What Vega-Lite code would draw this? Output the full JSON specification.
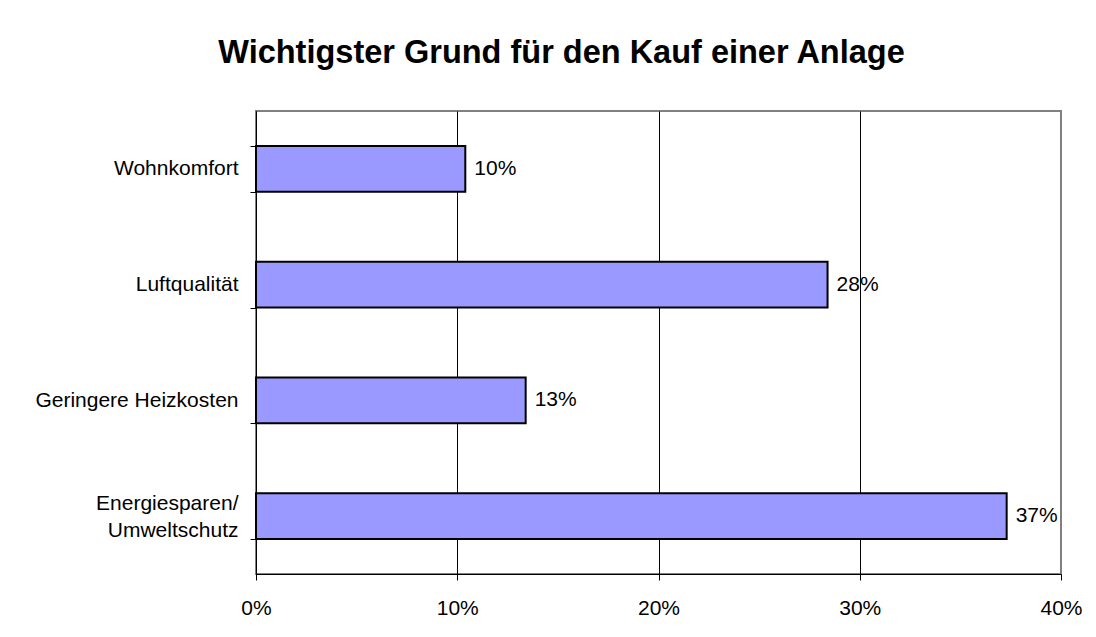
{
  "$schema": "https://vega.github.io/schema/vega-lite/v6.json",
  "width": 805,
  "height": 463,
  "autosize": {"type": "none"},
  "padding": {"left": 256, "top": 111, "right": 35, "bottom": 63},
  "background": "white",
  "title": {
    "text": "Wichtigster Grund für den Kauf einer Anlage",
    "font": "Liberation Sans",
    "fontSize": 32.5,
    "fontWeight": "bold",
    "color": "black",
    "anchor": "middle",
    "frame": "group",
    "dx": -97,
    "baseline": "alphabetic",
    "offset": 5
  },
  "config": {
    "view": {"stroke": "#808080", "strokeWidth": 2}
  },
  "data": {
    "values": [
      {"grund": "Wohnkomfort", "anteil": 0.104},
      {"grund": "Luftqualität", "anteil": 0.284},
      {"grund": "Geringere Heizkosten", "anteil": 0.134},
      {"grund": "Energiesparen/ Umweltschutz", "anteil": 0.373}
    ]
  },
  "encoding": {
    "y": {
      "field": "grund",
      "type": "nominal",
      "sort": null,
      "scale": {"paddingInner": 0.603, "paddingOuter": 0.3015},
      "axis": {
        "title": null,
        "domain": true,
        "domainColor": "black",
        "domainWidth": 1,
        "ticks": true,
        "tickBand": "extent",
        "tickColor": "black",
        "tickSize": 6,
        "grid": false,
        "labelFont": "Liberation Sans",
        "labelFontSize": 21,
        "labelColor": "black",
        "labelPadding": 12,
        "labelLimit": 0,
        "labelLineHeight": 27,
        "labelOffset": {"condition": {"test": "indexof(datum.label, '/') >= 0", "value": -13}, "value": 0},
        "labelExpr": "split(replace(datum.label, '/ ', '/|'), '|')"
      }
    },
    "x": {
      "field": "anteil",
      "type": "quantitative",
      "scale": {"domain": [0, 0.4], "nice": false},
      "axis": {
        "title": null,
        "values": [0, 0.1, 0.2, 0.3, 0.4],
        "format": ".0%",
        "domain": true,
        "domainColor": "black",
        "domainWidth": 1,
        "ticks": true,
        "tickColor": "black",
        "tickSize": 6,
        "grid": true,
        "gridColor": {"condition": {"test": "datum.value >= 0.4", "value": "#808080"}, "value": "black"},
        "gridWidth": 1,
        "labelFont": "Liberation Sans",
        "labelFontSize": 21,
        "labelColor": "black",
        "labelPadding": 17,
        "labelFlush": false
      }
    }
  },
  "layer": [
    {"mark": {"type": "bar", "fill": "#9999FF", "stroke": "black", "strokeWidth": 2}},
    {
      "mark": {"type": "text", "align": "left", "baseline": "middle", "dx": 9, "font": "Liberation Sans", "fontSize": 21, "color": "black"},
      "encoding": {"text": {"field": "anteil", "format": ".0%"}}
    }
  ]
}
